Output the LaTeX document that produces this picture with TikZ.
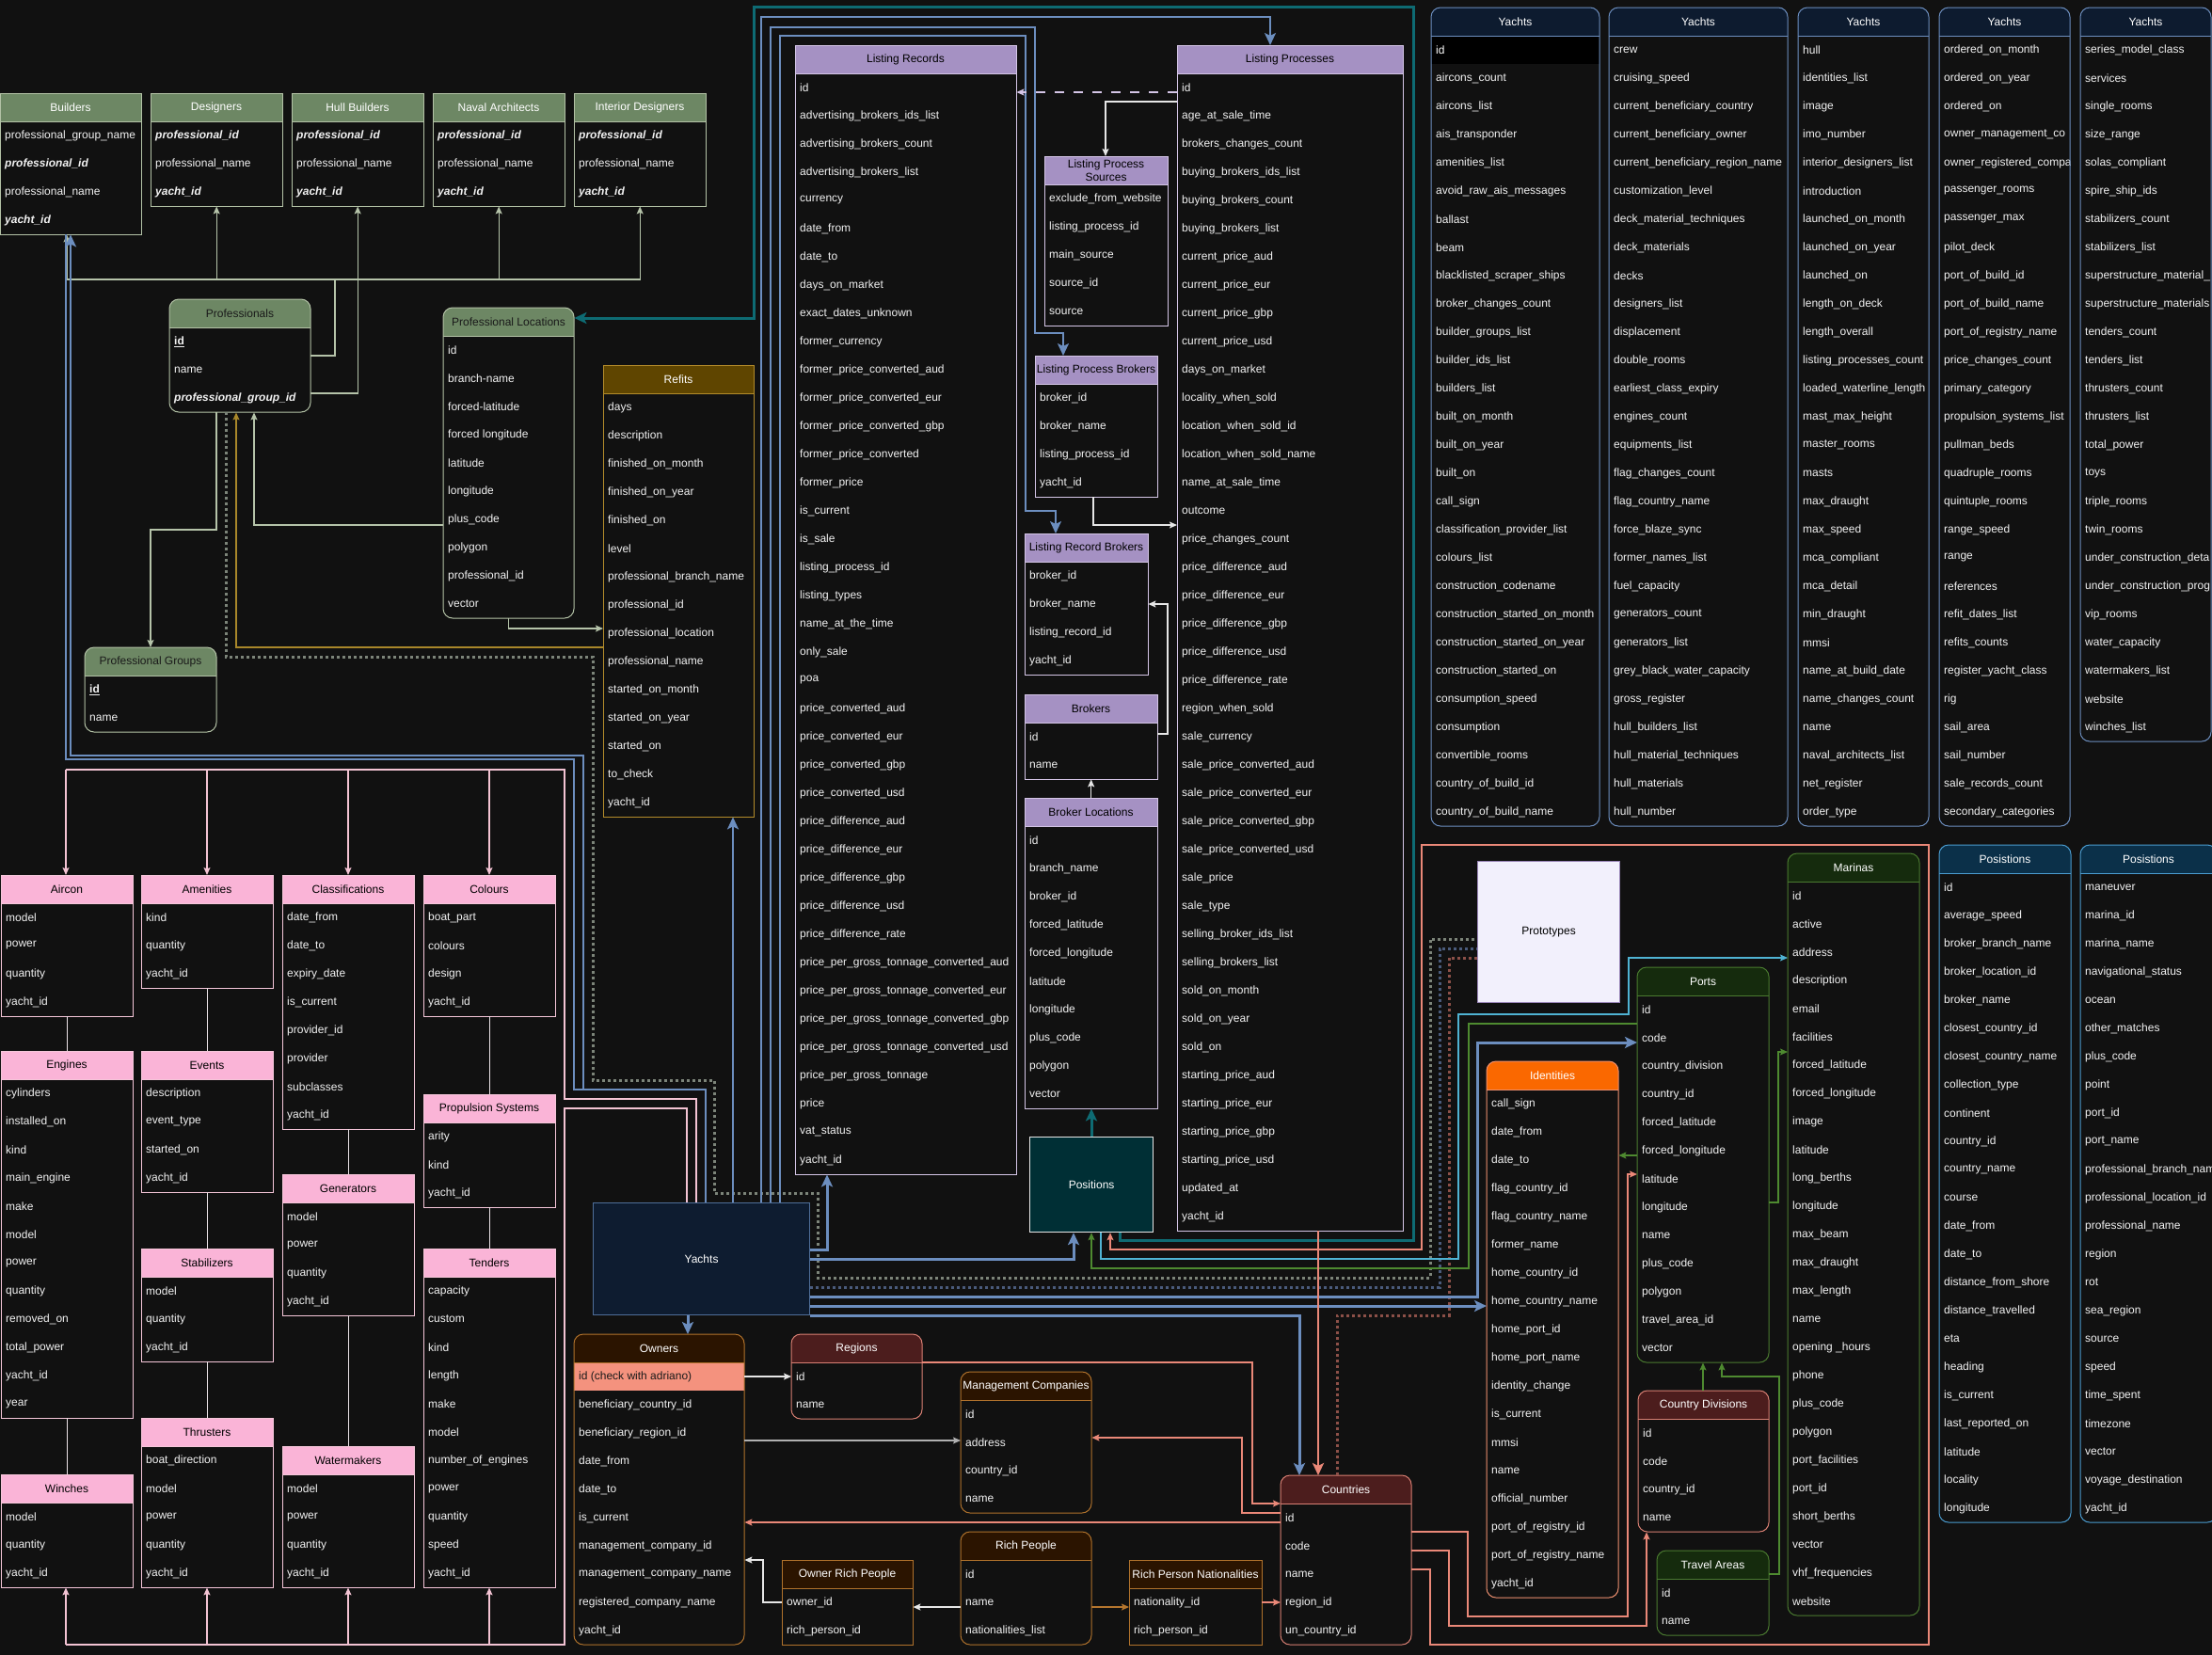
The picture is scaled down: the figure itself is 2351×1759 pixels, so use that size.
\documentclass[tikz,border=0pt]{standalone}
\usepackage{fontspec}
\setmainfont{Liberation Sans}
\usetikzlibrary{arrows.meta}

% canvas and table colours
\definecolor{bg}{HTML}{111111}
\definecolor{rowtext}{HTML}{F2F2F2}
\definecolor{darktext}{HTML}{1A1A1A}
\definecolor{grnhdr}{HTML}{6D8764}
\definecolor{grnedge}{HTML}{B3C2A6}
\definecolor{lavhdr}{HTML}{A591C3}
\definecolor{lavedge}{HTML}{D4C5E6}
\definecolor{navyhdr}{HTML}{0D1B2F}
\definecolor{navyedge}{HTML}{6C8EBF}
\definecolor{pinkhdr}{HTML}{FAB4D7}
\definecolor{pinkedge}{HTML}{F5C6D9}
\definecolor{brnhdr}{HTML}{2B1400}
\definecolor{brnedge}{HTML}{B0722C}
\definecolor{redhdr}{HTML}{4C1D1D}
\definecolor{rededge}{HTML}{D98074}
\definecolor{orghdr}{HTML}{FA6800}
\definecolor{orgedge}{HTML}{EE9070}
\definecolor{dgrnhdr}{HTML}{152B0D}
\definecolor{dgrnedge}{HTML}{4A7A30}
\definecolor{tealhdr}{HTML}{0B3049}
\definecolor{tealedge}{HTML}{4A9CD0}
\definecolor{goldhdr}{HTML}{5F4500}
\definecolor{goldedge}{HTML}{B38B2B}
\definecolor{idhl}{HTML}{F4927E}
\definecolor{yachtfill}{HTML}{0E1C30}
\definecolor{yachtedge}{HTML}{4F6E99}
\definecolor{posfill}{HTML}{002F35}
\definecolor{protofill}{HTML}{F2F0FC}
\definecolor{protoedge}{HTML}{9A86B8}
% connector colours
\definecolor{sagec}{HTML}{B5C3A9}
\definecolor{bluec}{HTML}{6C8EBF}
\definecolor{tealc}{HTML}{0E6B73}
\definecolor{salc}{HTML}{EA8878}
\definecolor{pinkc}{HTML}{F3C3D3}
\definecolor{whitec}{HTML}{E6E6E6}
\definecolor{grayc}{HTML}{B0B0B0}
\definecolor{lbluec}{HTML}{4FB3D3}
\definecolor{grnc}{HTML}{4E8A30}
\definecolor{goldc}{HTML}{A8872A}
\definecolor{brnc}{HTML}{B5762E}
\definecolor{dgrayc}{HTML}{7C8479}
\definecolor{dbluec}{HTML}{4A5B7C}
\definecolor{dsalc}{HTML}{8C5048}
\definecolor{linkc}{HTML}{EAE2E6}

\newcommand\tblfont{\fontsize{12}{13.5}\selectfont}
\newcommand\bi[1]{{\bfseries\itshape #1}}
\newcommand\bu[1]{{\bfseries\underline{#1}}}

\def\hdrfill{grnhdr}\def\hdrtext{white}\def\edgecol{grnedge}\def\rad{0}
\def\hlrow{0}\def\hlfill{black}\def\hltext{white}

\tikzset{
  hdrfill/.store in=\hdrfill, hdrtext/.store in=\hdrtext,
  edgecol/.store in=\edgecol, rad/.store in=\rad,
  hlrow/.store in=\hlrow, hlfill/.store in=\hlfill, hltext/.store in=\hltext,
  thGreen/.style={hdrfill=grnhdr,hdrtext=white,edgecol=grnedge,rad=0},
  thGreenR/.style={hdrfill=grnhdr,hdrtext=darktext,edgecol=grnedge,rad=10},
  thLav/.style={hdrfill=lavhdr,hdrtext=black,edgecol=lavedge,rad=0},
  thNavy/.style={hdrfill=navyhdr,hdrtext=white,edgecol=navyedge,rad=10},
  thPink/.style={hdrfill=pinkhdr,hdrtext=black,edgecol=pinkedge,rad=0},
  thBrown/.style={hdrfill=brnhdr,hdrtext=white,edgecol=brnedge,rad=0},
  thBrownR/.style={thBrown,rad=10},
  thRed/.style={hdrfill=redhdr,hdrtext=white,edgecol=rededge,rad=10},
  thOrange/.style={hdrfill=orghdr,hdrtext=white,edgecol=orgedge,rad=10},
  thDGreen/.style={hdrfill=dgrnhdr,hdrtext=white,edgecol=dgrnedge,rad=10},
  thTeal/.style={hdrfill=tealhdr,hdrtext=white,edgecol=tealedge,rad=10},
  thGold/.style={hdrfill=goldhdr,hdrtext=white,edgecol=goldedge,rad=0},
  % connectors
  ln/.style={line width=1.2pt},
  tip/.style={-{Stealth[length=8pt,width=7pt,inset=1.5pt]}},
  bigtip/.style={-{Stealth[length=13pt,width=12pt,inset=3pt]}},
  sageln/.style={ln,draw=sagec},
  goldln/.style={ln,draw=goldc},
  pinkln/.style={ln,draw=pinkc},
  linkln/.style={ln,draw=linkc},
  whiteln/.style={ln,draw=whitec},
  grayln/.style={ln,draw=grayc},
  brnln/.style={ln,draw=brnc},
  salln/.style={ln,draw=salc},
  lblueln/.style={ln,draw=lbluec},
  grnln/.style={ln,draw=grnc},
  salthick/.style={line width=2.5pt,draw=salc},
  blueln/.style={line width=2pt,draw=bluec},
  bluethick/.style={line width=3pt,draw=bluec},
  tealln/.style={line width=3pt,draw=tealc},
  dashln/.style={ln,draw=lavedge,dash pattern=on 10pt off 10pt},
  dotln/.style={line width=3pt,dash pattern=on 3pt off 3pt},
  boxnode/.style={inner sep=0pt,anchor=north west,font=\tblfont,line width=1.2pt},
}

% #1 name, #2 theme, #3 left, #4 top, #5 width, #6 title, #7 rows
\newcommand\dbtable[7]{%
  \begin{scope}[#2]
    \foreach \rowtxt [count=\k] in {#7} {\xdef\nrows{\k}}%
    \pgfmathsetmacro\tblh{30+30*\nrows}%
    \fill[fill=bg, rounded corners=\rad pt] (#3,#4) rectangle ++(#5,\tblh);
    \ifnum\hlrow>0
      \fill[fill=\hlfill] (#3,#4+30*\hlrow) rectangle ++(#5,30);
    \fi
    \fill[fill=\hdrfill, rounded corners=\rad pt] (#3,#4) rectangle ++(#5,30);
    \fill[fill=\hdrfill] (#3,#4+15) rectangle ++(#5,15);
    \node[font=\tblfont, text=\hdrtext, align=center, inner sep=0pt] (#1-h) at (#3+#5/2,#4+15) {#6};
    \begin{scope}
      \clip (#3,#4) rectangle ++(#5,\tblh);
      \foreach \rowtxt [count=\k] in {#7} {
        \ifnum\k=\hlrow\relax \edef\rc{\hltext}\else \def\rc{rowtext}\fi
        \node[anchor=west, font=\tblfont, text=\rc, inner sep=0pt] (#1-\k) at (#3+5,#4+30*\k+15) {\rowtxt};
      }
    \end{scope}
    \draw[draw=\edgecol, line width=1pt] (#3,#4+30) -- ++(#5,0);
    \draw[draw=\edgecol, line width=1pt, rounded corners=\rad pt] (#3,#4) rectangle ++(#5,\tblh);
    \node[inner sep=0pt, minimum width=#5pt, minimum height=\tblh pt, anchor=north west] (#1) at (#3,#4) {};
  \end{scope}}

\begin{document}
\catcode`\_=12\relax
\begin{tikzpicture}[x=1pt,y=-1pt]
\fill[bg, use as bounding box] (0,0) rectangle (2351,1759);

% ---------- professionals ----------
\dbtable{builders}{thGreen}{0}{99}{150}{Builders}{professional_group_name,\bi{professional_id},professional_name,\bi{yacht_id}}
\dbtable{designers}{thGreen}{160}{99}{140}{Designers}{\bi{professional_id},professional_name,\bi{yacht_id}}
\dbtable{hull}{thGreen}{310}{99}{140}{Hull Builders}{\bi{professional_id},professional_name,\bi{yacht_id}}
\dbtable{naval}{thGreen}{460}{99}{140}{Naval Architects}{\bi{professional_id},professional_name,\bi{yacht_id}}
\dbtable{interior}{thGreen}{610}{99}{140}{Interior Designers}{\bi{professional_id},professional_name,\bi{yacht_id}}
\dbtable{professionals}{thGreenR}{180}{318}{150}{Professionals}{\bu{id},name,\bi{professional_group_id}}
\dbtable{proflocs}{thGreenR}{471}{327}{139}{Professional Locations}{id,branch-name,forced-latitude,forced longitude,latitude,longitude,plus_code,polygon,professional_id,vector}
\dbtable{profgroups}{thGreenR}{90}{688}{140}{Professional Groups}{\bu{id},name}
\dbtable{refits}{thGold}{641}{388}{160}{Refits}{days,description,finished_on_month,finished_on_year,finished_on,level,professional_branch_name,professional_id,professional_location,professional_name,started_on_month,started_on_year,started_on,to_check,yacht_id}

% ---------- listings and brokers ----------
\dbtable{lrec}{thLav}{845}{48}{235}{Listing Records}{id,advertising_brokers_ids_list,advertising_brokers_count,advertising_brokers_list,currency,date_from,date_to,days_on_market,exact_dates_unknown,former_currency,former_price_converted_aud,former_price_converted_eur,former_price_converted_gbp,former_price_converted,former_price,is_current,is_sale,listing_process_id,listing_types,name_at_the_time,only_sale,poa,price_converted_aud,price_converted_eur,price_converted_gbp,price_converted_usd,price_difference_aud,price_difference_eur,price_difference_gbp,price_difference_usd,price_difference_rate,price_per_gross_tonnage_converted_aud,price_per_gross_tonnage_converted_eur,price_per_gross_tonnage_converted_gbp,price_per_gross_tonnage_converted_usd,price_per_gross_tonnage,price,vat_status,yacht_id}
\dbtable{lproc}{thLav}{1251}{48}{240}{Listing Processes}{id,age_at_sale_time,brokers_changes_count,buying_brokers_ids_list,buying_brokers_count,buying_brokers_list,current_price_aud,current_price_eur,current_price_gbp,current_price_usd,days_on_market,locality_when_sold,location_when_sold_id,location_when_sold_name,name_at_sale_time,outcome,price_changes_count,price_difference_aud,price_difference_eur,price_difference_gbp,price_difference_usd,price_difference_rate,region_when_sold,sale_currency,sale_price_converted_aud,sale_price_converted_eur,sale_price_converted_gbp,sale_price_converted_usd,sale_price,sale_type,selling_broker_ids_list,selling_brokers_list,sold_on_month,sold_on_year,sold_on,starting_price_aud,starting_price_eur,starting_price_gbp,starting_price_usd,updated_at,yacht_id}
\dbtable{lpsrc}{thLav}{1110}{166}{131}{Listing Process\\Sources}{exclude_from_website,listing_process_id,main_source,source_id,source}
\dbtable{lpbrk}{thLav}{1100}{378}{130}{Listing Process Brokers}{broker_id,broker_name,listing_process_id,yacht_id}
\dbtable{lrbrk}{thLav}{1089}{567}{131}{Listing Record Brokers}{broker_id,broker_name,listing_record_id,yacht_id}
\dbtable{brokers}{thLav}{1089}{738}{141}{Brokers}{id,name}
\dbtable{brkloc}{thLav}{1089}{848}{141}{Broker Locations}{id,branch_name,broker_id,forced_latitude,forced_longitude,latitude,longitude,plus_code,polygon,vector}

% ---------- yachts columns ----------
\dbtable{yachtsA}{thNavy,hlrow=1,hlfill=black,hltext=white}{1521}{8}{179}{Yachts}{id,aircons_count,aircons_list,ais_transponder,amenities_list,avoid_raw_ais_messages,ballast,beam,blacklisted_scraper_ships,broker_changes_count,builder_groups_list,builder_ids_list,builders_list,built_on_month,built_on_year,built_on,call_sign,classification_provider_list,colours_list,construction_codename,construction_started_on_month,construction_started_on_year,construction_started_on,consumption_speed,consumption,convertible_rooms,country_of_build_id,country_of_build_name}
\dbtable{yachtsB}{thNavy}{1710}{8}{190}{Yachts}{crew,cruising_speed,current_beneficiary_country,current_beneficiary_owner,current_beneficiary_region_name,customization_level,deck_material_techniques,deck_materials,decks,designers_list,displacement,double_rooms,earliest_class_expiry,engines_count,equipments_list,flag_changes_count,flag_country_name,force_blaze_sync,former_names_list,fuel_capacity,generators_count,generators_list,grey_black_water_capacity,gross_register,hull_builders_list,hull_material_techniques,hull_materials,hull_number}
\dbtable{yachtsC}{thNavy}{1911}{8}{139}{Yachts}{hull,identities_list,image,imo_number,interior_designers_list,introduction,launched_on_month,launched_on_year,launched_on,length_on_deck,length_overall,listing_processes_count,loaded_waterline_length,mast_max_height,master_rooms,masts,max_draught,max_speed,mca_compliant,mca_detail,min_draught,mmsi,name_at_build_date,name_changes_count,name,naval_architects_list,net_register,order_type}
\dbtable{yachtsD}{thNavy}{2061}{8}{139}{Yachts}{ordered_on_month,ordered_on_year,ordered_on,owner_management_co,owner_registered_compa,passenger_rooms,passenger_max,pilot_deck,port_of_build_id,port_of_build_name,port_of_registry_name,price_changes_count,primary_category,propulsion_systems_list,pullman_beds,quadruple_rooms,quintuple_rooms,range_speed,range,references,refit_dates_list,refits_counts,register_yacht_class,rig,sail_area,sail_number,sale_records_count,secondary_categories}
\dbtable{yachtsE}{thNavy}{2211}{8}{139}{Yachts}{series_model_class,services,single_rooms,size_range,solas_compliant,spire_ship_ids,stabilizers_count,stabilizers_list,superstructure_material_,superstructure_materials,tenders_count,tenders_list,thrusters_count,thrusters_list,total_power,toys,triple_rooms,twin_rooms,under_construction_deta,under_construction_prog,vip_rooms,water_capacity,watermakers_list,website,winches_list}

% ---------- equipment tables ----------
\dbtable{aircon}{thPink}{1}{930}{140}{Aircon}{model,power,quantity,yacht_id}
\dbtable{amenities}{thPink}{150}{930}{140}{Amenities}{kind,quantity,yacht_id}
\dbtable{classif}{thPink}{300}{930}{140}{Classifications}{date_from,date_to,expiry_date,is_current,provider_id,provider,subclasses,yacht_id}
\dbtable{colours}{thPink}{450}{930}{140}{Colours}{boat_part,colours,design,yacht_id}
\dbtable{engines}{thPink}{1}{1117}{140}{Engines}{cylinders,installed_on,kind,main_engine,make,model,power,quantity,removed_on,total_power,yacht_id,year}
\dbtable{winches}{thPink}{1}{1567}{140}{Winches}{model,quantity,yacht_id}
\dbtable{events}{thPink}{150}{1117}{140}{Events}{description,event_type,started_on,yacht_id}
\dbtable{stabilizers}{thPink}{150}{1327}{140}{Stabilizers}{model,quantity,yacht_id}
\dbtable{thrusters}{thPink}{150}{1507}{140}{Thrusters}{boat_direction,model,power,quantity,yacht_id}
\dbtable{generators}{thPink}{300}{1248}{140}{Generators}{model,power,quantity,yacht_id}
\dbtable{watermakers}{thPink}{300}{1537}{140}{Watermakers}{model,power,quantity,yacht_id}
\dbtable{propulsion}{thPink}{450}{1163}{140}{Propulsion Systems}{arity,kind,yacht_id}
\dbtable{tenders}{thPink}{450}{1327}{140}{Tenders}{capacity,custom,kind,length,make,model,number_of_engines,power,quantity,speed,yacht_id}

% ---------- ownership and geography ----------
\dbtable{owners}{thBrownR,hlrow=1,hlfill=idhl,hltext=darktext}{610}{1418}{181}{Owners}{id (check with adriano),beneficiary_country_id,beneficiary_region_id,date_from,date_to,is_current,management_company_id,management_company_name,registered_company_name,yacht_id}
\dbtable{regions}{thRed}{841}{1418}{139}{Regions}{id,name}
\dbtable{mgmt}{thBrownR}{1021}{1458}{139}{Management Companies}{id,address,country_id,name}
\dbtable{richpeople}{thBrownR}{1021}{1628}{139}{Rich People}{id,name,nationalities_list}
\dbtable{ownerrich}{thBrown}{831}{1658}{139}{Owner Rich People}{owner_id,rich_person_id}
\dbtable{rpnat}{thBrown}{1200}{1658}{141}{Rich Person Nationalities}{nationality_id,rich_person_id}
\dbtable{countries}{thRed}{1361}{1568}{139}{Countries}{id,code,name,region_id,un_country_id}
\dbtable{countrydiv}{thRed}{1741}{1478}{139}{Country Divisions}{id,code,country_id,name}
\dbtable{travel}{thDGreen}{1761}{1648}{119}{Travel Areas}{id,name}
\dbtable{identities}{thOrange}{1580}{1128}{140}{Identities}{call_sign,date_from,date_to,flag_country_id,flag_country_name,former_name,home_country_id,home_country_name,home_port_id,home_port_name,identity_change,is_current,mmsi,name,official_number,port_of_registry_id,port_of_registry_name,yacht_id}
\dbtable{ports}{thDGreen}{1740}{1028}{140}{Ports}{id,code,country_division,country_id,forced_latitude,forced_longitude,latitude,longitude,name,plus_code,polygon,travel_area_id,vector}
\dbtable{marinas}{thDGreen}{1900}{907}{140}{Marinas}{id,active,address,description,email,facilities,forced_latitude,forced_longitude,image,latitude,long_berths,longitude,max_beam,max_draught,max_length,name,opening _hours,phone,plus_code,polygon,port_facilities,port_id,short_berths,vector,vhf_frequencies,website}
\dbtable{posA}{thTeal}{2061}{898}{140}{Posistions}{id,average_speed,broker_branch_name,broker_location_id,broker_name,closest_country_id,closest_country_name,collection_type,continent,country_id,country_name,course,date_from,date_to,distance_from_shore,distance_travelled,eta,heading,is_current,last_reported_on,latitude,locality,longitude}
\dbtable{posB}{thTeal}{2211}{898}{145}{Posistions}{maneuver,marina_id,marina_name,navigational_status,ocean,other_matches,plus_code,point,port_id,port_name,professional_branch_name,professional_location_id,professional_name,region,rot,sea_region,source,speed,time_spent,timezone,vector,voyage_destination,yacht_id}

% ---------- plain boxes ----------
\node[boxnode, draw=yachtedge, fill=yachtfill, text=white, minimum width=230pt, minimum height=119pt] (yachts) at (630,1278) {};
\node[font=\tblfont, text=white] at (yachts.center) {Yachts};
\node[boxnode, draw=whitec, fill=posfill, text=white, minimum width=131pt, minimum height=101pt] (positions) at (1094,1208) {};
\node[font=\tblfont, text=white] at (positions.center) {Positions};
\node[boxnode, draw=protoedge, fill=protofill, minimum width=151pt, minimum height=150pt] (prototypes) at (1570,915) {};
\node[font=\tblfont, text=black] at (prototypes.center) {Prototypes};

% ---------- professionals links ----------
\draw[sageln] (71,297) -- (681,297);
\draw[sageln,tip] (71,297) -- (71,0 |- builders.south);
\foreach \tb in {designers,naval,interior}
  \draw[sageln,tip] (\tb.south |- 0,297) -- (\tb.south);
\draw[sageln] (professionals.east |- 0,378) -| (356,297);
\draw[sageln,tip] (professionals.east |- 0,418) -| (hull.south);
\draw[sageln,tip] (proflocs.west |- 0,558) -| (professionals.south -| 270,0);
\draw[sageln,tip] (professionals.south -| 230,0) |- (160,563) -- (profgroups.north -| 160,0);
\draw[sageln,tip] (proflocs.south) |- (refits.west |- 0,668);
\draw[goldln,tip] (refits.west |- 0,688) -| (professionals.south -| 251,0);

% ---------- dotted links into prototypes ----------
\draw[dotln,draw=dgrayc] (professionals.south -| 240,0) |- (630,698) |- (759,1148) |- (869,1268) |- (1520,1358) |- (prototypes.west |- 0,998);
\draw[dotln,draw=dbluec] (yachts.east |- 0,1368) -| (1530,1008) -- (prototypes.west |- 0,1008);
\draw[dotln,draw=dsalc] (countries.north -| 1421,0) |- (1540,1398) |- (prototypes.west |- 0,1018);

% ---------- positions links ----------
\draw[tealln,bigtip,draw=tealc] (positions.south -| 1190,0) |- (1502,1318) |- (801,7) |- (proflocs.east |- 0,338);
\draw[tealln,bigtip] (positions.north -| 1160,0) -- (brkloc.south -| 1160,0);
\draw[lblueln,tip] (positions.south -| 1170,0) |- (1550,1338) |- (1731,1078) |- (marinas.west |- 0,1018);
\draw[grnln,tip] (ports.west |- 0,1088) -| (1561,1348) -| (positions.south -| 1160,0);
\draw[grnln,tip] (ports.east |- 0,1278) -| (1890,1118) -- (marinas.west |- 0,1118);
\draw[grnln,tip] (travel.east |- 0,1673) -| (1891,1463) -| (ports.south -| 1830,0);
\draw[grnln,tip] (countrydiv.north -| 1810,0) -- (ports.south -| 1810,0);
\draw[grnln,tip] (ports.west |- 0,1228) -- (identities.east |- 0,1228);

% ---------- yacht links ----------
\draw[blueln,bigtip] (yachts.north -| 779,0) -- (refits.south -| 779,0);
\draw[blueln,bigtip] (yachts.north -| 809,0) |- (1350,18) -- (lproc.north -| 1350,0);
\draw[blueln,bigtip] (yachts.north -| 819,0) |- (1100,29) |- (1130,354) -- (lpbrk.north -| 1130,0);
\draw[blueln,bigtip] (yachts.north -| 829,0) |- (1090,38) |- (1122,543) -- (lrbrk.north -| 1122,0);
\draw[blueln] (yachts.north -| 750,0) |- (610,1158) |- (70,807) -- (70,0 |- builders.south);
\draw[blueln,bigtip] (yachts.north -| 750,0) |- (620,1158) |- (75,803) -- (75,0 |- builders.south);
\draw[bluethick,bigtip] (yachts.east |- 0,1328) -| (lrec.south -| 879,0);
\draw[bluethick,bigtip] (yachts.east |- 0,1338) -| (positions.south -| 1141,0);
\draw[bluethick,bigtip] (yachts.east |- 0,1378) -| (1570,1108) -- (ports.west |- 0,1108);
\draw[bluethick,bigtip] (yachts.east |- 0,1388) -- (identities.west |- 0,1388);
\draw[bluethick,bigtip] (yachts.south east) -| (countries.north -| 1381,0);
\draw[bluethick,bigtip] (yachts.south -| 731,0) -- (owners.north -| 731,0);

% ---------- equipment links ----------
\draw[pinkln] (yachts.north -| 740,0) |- (600,1168) |- (70,818);
\foreach \xx/\tb in {70/aircon,220/amenities,370/classif,520/colours}
  \draw[pinkln,tip] (\xx,818) -- (\tb.north -| \xx,0);
\draw[pinkln] (yachts.north -| 730,0) |- (600,1178) |- (70,1748);
\foreach \xx/\tb in {70/winches,220/thrusters,370/watermakers,520/tenders}
  \draw[pinkln,tip] (\xx,1748) -- (\tb.south -| \xx,0);
\foreach \ta/\tb in {aircon/engines,engines/winches,amenities/events,events/stabilizers,stabilizers/thrusters,classif/generators,generators/watermakers,colours/propulsion,propulsion/tenders}
  \draw[linkln] (\ta.south) -- (\tb.north);

% ---------- listing links ----------
\draw[dashln,tip] (lproc.west |- 0,98) -- (lrec.east |- 0,98);
\draw[whiteln,tip] (lproc.west |- 0,108) -| (lpsrc.north -| 1175,0);
\draw[whiteln,tip] (lpbrk.south -| 1162,0) |- (lproc.west |- 0,558);
\draw[whiteln,tip] (brokers.east |- 0,780) -| (1241,642) -- (lrbrk.east |- 0,642);
\draw[whiteln,tip] (brkloc.north) -- (brokers.south);
\draw[salthick,bigtip] (lproc.south -| 1401,0) -- (countries.north -| 1401,0);

% ---------- ownership links ----------
\draw[whiteln,tip] (owners.east |- 0,1463) -- (regions.west |- 0,1463);
\draw[grayln,tip] (owners.east |- 0,1531) -- (mgmt.west |- 0,1531);
\draw[whiteln,tip] (ownerrich.west |- 0,1703) -| (811,1658) -- (owners.east |- 0,1658);
\draw[whiteln,tip] (richpeople.west |- 0,1708) -- (ownerrich.east |- 0,1708);
\draw[brnln,tip] (richpeople.east |- 0,1708) -- (rpnat.west |- 0,1708);
\draw[salln,tip] (regions.east |- 0,1448) -| (1331,1598) -- (countries.west |- 0,1598);
\draw[salln,tip] (countries.west |- 0,1608) -| (1320,1528) -- (mgmt.east |- 0,1528);
\draw[salln,tip] (countries.west |- 0,1618) -- (owners.east |- 0,1618);
\draw[salln,tip] (rpnat.east |- 0,1703) -- (countries.west |- 0,1703);
\draw[salln,tip] (countries.east |- 0,1628) -| (1560,1718) -| (1730,1248) -- (ports.west |- 0,1248);
\draw[salln,tip] (countries.east |- 0,1648) -| (1540,1728) -| (countrydiv.south -| 1750,0);
\draw[salln,tip] (countries.east |- 0,1668) -| (1520,1748) -| (2050,898) -| (1511,1328) -| (positions.south -| 1180,0);
\end{tikzpicture}
\end{document}
